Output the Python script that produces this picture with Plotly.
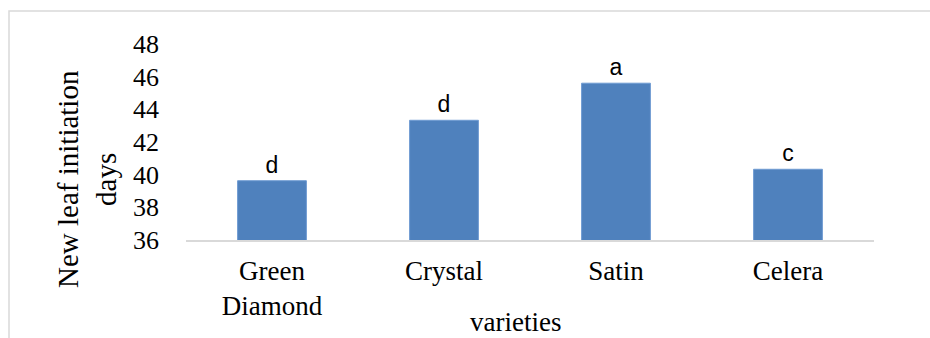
import plotly.graph_objects as go

varieties = ["Green<br>Diamond", "Crystal", "Satin", "Celera"]
initiation_days = [39.63, 43.33, 45.6, 40.33]
letters = ["d", "d", "a", "c"]
y_ticks = [36, 38, 40, 42, 44, 46, 48]

serif = "Liberation Serif, Times New Roman, serif"

fig = go.Figure(go.Bar(
    x=varieties,
    y=initiation_days,
    text=letters,
    textposition="outside",
    textfont=dict(family="Liberation Sans, Arial, sans-serif", size=23, color="#000000"),
    marker=dict(color="#4f81bd", line=dict(color="#6f9bd2", width=1)),
    cliponaxis=False,
    width=0.4,
))

W, H = 930, 338
L, R, T, B = 186, 56, 44, 98
pw, ph = W - L - R, H - T - B

def px(x):
    return (x - L) / pw

def py(y):
    return (H - B - y) / ph

fig.update_layout(
    width=W, height=H,
    margin=dict(l=L, r=R, t=T, b=B, pad=0),
    paper_bgcolor="white", plot_bgcolor="white",
    showlegend=False,
    font=dict(family=serif, color="#000000"),
    xaxis=dict(
        showgrid=False, zeroline=False,
        showline=True, linecolor="#d9d9d9", linewidth=1.5,
        ticks="", tickfont=dict(family=serif, size=27, color="#000000"),
        ticklabelstandoff=6,
    ),
    yaxis=dict(
        range=[36, 48], tickvals=y_ticks,
        showgrid=False, zeroline=False, showline=False,
        ticks="", tickfont=dict(family=serif, size=26, color="#000000"),
        ticklabelstandoff=26,
    ),
    annotations=[
        dict(text="New leaf initiation<br>days", textangle=-90,
             xref="paper", yref="paper", x=px(87), y=py(179),
             xanchor="center", yanchor="middle", showarrow=False,
             font=dict(family=serif, size=29, color="#000000")),
        dict(text="varieties", xref="paper", yref="paper",
             x=px(515), y=py(322), xanchor="center", yanchor="middle",
             showarrow=False, font=dict(family=serif, size=27, color="#000000")),
    ],
    shapes=[
        dict(type="rect", xref="paper", yref="paper",
             x0=px(9), x1=px(960), y0=py(360), y1=py(11),
             line=dict(color="#d9d9d9", width=1.5), layer="below"),
    ],
)

fig.write_html(
    "out.html",
    config={"displayModeBar": False},
    post_script="document.body.style.margin='0';document.body.style.overflow='hidden';",
)
